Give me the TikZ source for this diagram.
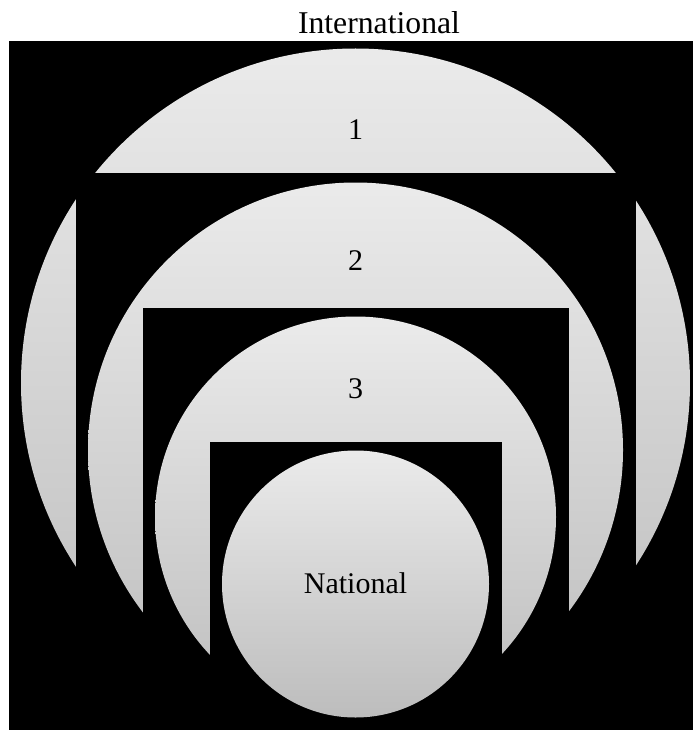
\documentclass[tikz,border=0pt]{standalone}
\usepackage{fontspec}
\setmainfont{Liberation Serif}
\usepackage{tikz}
\usetikzlibrary{positioning}

\begin{document}
\begin{tikzpicture}[
  x=1pt,y=1pt,
  ring/.style={top color=black!8,bottom color=black!26},
  cut/.style={fill=black},
  lbl/.style={anchor=base,inner sep=0pt,font=\fontsize{30}{36}\selectfont}
]
\useasboundingbox (0,0) rectangle (693,-730);
% black field
\fill[cut] (9,-41) rectangle (693,-730);
% level 1
\shade[ring] (355.5,-383) circle[radius=334.5];
\fill[cut] (75.5,-173) rectangle (636,-730);
% level 2
\shade[ring] (355.5,-450) circle[radius=267.5];
\fill[cut] (142.5,-308) rectangle (569,-730);
% level 3
\shade[ring] (355.5,-517) circle[radius=200.5];
\fill[cut] (209.5,-442) rectangle (502,-730);
% national core
\shade[ring] (355.5,-584) circle[radius=133.5];
\node[lbl,font=\fontsize{31.7}{38}\selectfont] (intl) at (379,-33.3) {International};
\node[lbl] (one) at (355.5,-139.5) {1};
\node[lbl] (two) at (355.5,-270) {2};
\node[lbl] (three) at (355.5,-398.3) {3};
\node[lbl] (natl) at (355.5,-593.3) {National};
\end{tikzpicture}
\end{document}
